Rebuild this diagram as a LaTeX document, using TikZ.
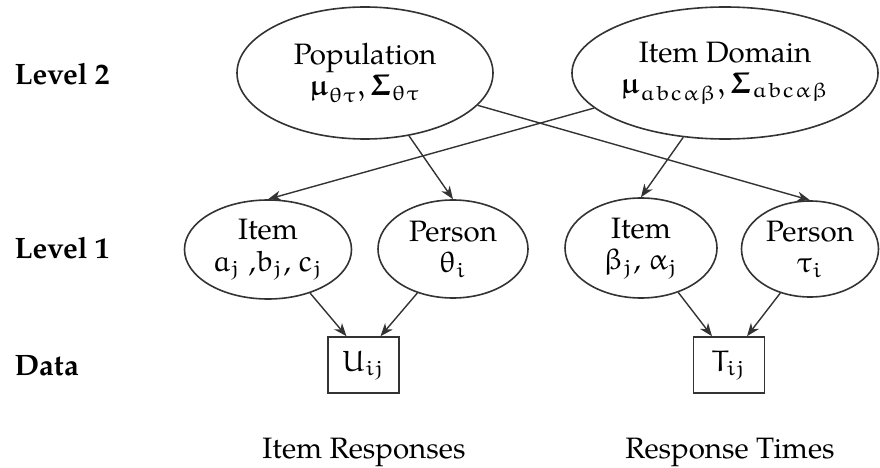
\documentclass[tikz,border=0pt]{standalone}
\usepackage{amsmath}
\usepackage[no-math]{fontspec}
\setmainfont{TeX Gyre Pagella}
\DeclareSymbolFont{letters}{U}{eur}{m}{n}
\SetSymbolFont{letters}{bold}{U}{eur}{b}{n}
\DeclareMathSymbol{\Sigma}{\mathalpha}{letters}{"06}
\usetikzlibrary{shapes.geometric,arrows.meta}
\def\u{0.339}
\tikzset{
  every node/.style={font=\fontsize{10}{10.6}\selectfont},
  ell/.style={ellipse, draw=black!80, line width=1.6*\u pt, inner sep=0pt, align=center},
  databox/.style={rectangle, draw=black!80, line width=1.6*\u pt, minimum width=71*\u pt, minimum height=56*\u pt, inner sep=0pt},
  lvl/.style={anchor=base west, inner sep=0pt, font=\fontsize{10}{10.6}\selectfont\bfseries},
  conn/.style={draw=black!80, line width=1.4*\u pt, -{Stealth[length=13*\u pt,width=10*\u pt,inset=4*\u pt]}},
  caption/.style={anchor=base, inner sep=0pt}
}
\begin{document}
\begin{tikzpicture}[x=\u pt,y=-\u pt]
\useasboundingbox (0,0) rectangle (880,468);
% level 2
\node[ell, minimum width=256*\u pt, minimum height=132*\u pt] (pop) at (365,73)
  {Population\\$\boldsymbol{\mu}_{\theta\tau},\boldsymbol{\Sigma}_{\theta\tau}$};
\node[ell, minimum width=306*\u pt, minimum height=132*\u pt] (dom) at (725,73)
  {Item Domain\\$\boldsymbol{\mu}_{abc\alpha\beta},\boldsymbol{\Sigma}_{abc\alpha\beta}$};
% level 1
\node[ell, minimum width=167*\u pt, minimum height=99*\u pt] (itemL) at (268,249.5)
  {Item\\$a_j$ ,$b_j$, $c_j$};
\node[ell, minimum width=150*\u pt, minimum height=98*\u pt] (persL) at (453,249)
  {Person\\$\theta_i$};
\node[ell, minimum width=152*\u pt, minimum height=100*\u pt] (itemR) at (641,248)
  {Item\\$\beta_j$, $\alpha_j$};
\node[ell, minimum width=137*\u pt, minimum height=96*\u pt] (persR) at (810,249)
  {Person\\$\tau_i$};
% data
\node[databox] (U) at (363.5,365) {$U_{ij}$};
\node[databox] (T) at (729,365) {$T_{ij}$};
% level labels
\node[lvl] (l2) at (14,85) {Level 2};
\node[lvl] (l1) at (14,258) {Level 1};
\node[lvl] (ld) at (14,375) {Data};
% captions
\node[caption] (cU) at (364,458) {Item Responses};
\node[caption] (cT) at (730,458) {Response Times};
% connectors
\draw[conn] (pop.-55) -- (persL.north);
\draw[conn] (pop.-16) -- (persR.north);
\draw[conn] (dom.195) -- (itemL.north);
\draw[conn] (dom.-123) -- (itemR.north);
\draw[conn] (itemL.-46) -- ([xshift=-17*\u pt]U.north);
\draw[conn] (persL.231) -- ([xshift=17*\u pt]U.north);
\draw[conn] (itemR.-50) -- ([xshift=-17*\u pt]T.north);
\draw[conn] (persR.236) -- ([xshift=18*\u pt]T.north);
\end{tikzpicture}
\end{document}
